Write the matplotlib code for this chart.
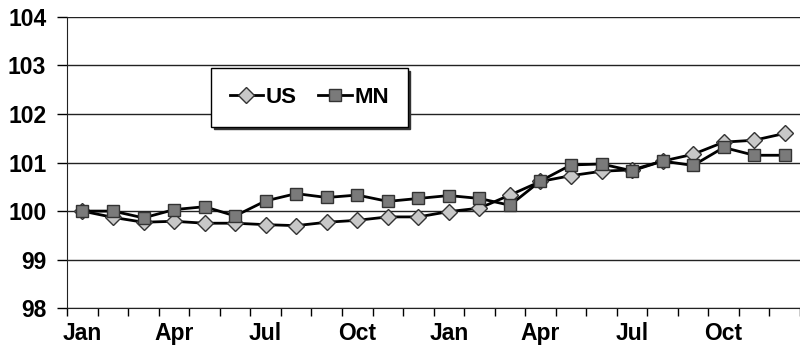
import matplotlib.pyplot as plt
import numpy as np

plt.rcParams['font.family'] = ['Liberation Sans', 'DejaVu Sans']
plt.rcParams['font.weight'] = 'bold'

months = ["Jan", "Feb", "Mar", "Apr", "May", "Jun",
          "Jul", "Aug", "Sep", "Oct", "Nov", "Dec"] * 2
us = [100.0, 99.87, 99.77, 99.79, 99.75, 99.75, 99.72, 99.70, 99.77, 99.81, 99.88, 99.88,
      99.99, 100.06, 100.33, 100.61, 100.73, 100.82, 100.85, 101.03, 101.17, 101.42, 101.46, 101.60]
mn = [100.0, 100.0, 99.86, 100.03, 100.09, 99.90, 100.21, 100.36, 100.28, 100.33, 100.20, 100.26,
      100.32, 100.26, 100.12, 100.62, 100.95, 100.97, 100.83, 101.03, 100.94, 101.31, 101.15, 101.15]

x = np.arange(len(months))

fig = plt.figure(figsize=(8, 3.6), dpi=100)
ax = fig.add_axes([0.084, 0.144, 0.916, 0.809])

ax.plot(x, us, color='black', lw=2, marker='D', ms=8, mfc='#c8c8c8', mec='#333333',
        mew=1, label='US', zorder=3)
ax.plot(x, mn, color='black', lw=2, marker='s', ms=8, mfc='#7a7a7a', mec='#333333',
        mew=1, label='MN', zorder=4)

ax.set_ylim(98, 104)
ax.set_yticks(np.arange(98, 105, 1))
ax.set_xlim(-0.5, 23.22)

# labels every quarter, tick marks between months
ax.set_xticks(x[::3])
ax.set_xticklabels(months[::3])
ax.set_xticks(np.arange(-0.5, 24, 1), minor=True)
ax.tick_params(axis='x', which='major', length=0, pad=10, labelsize=16.5)
ax.tick_params(axis='x', which='minor', length=6, width=1, direction='out')
ax.tick_params(axis='y', length=7, width=1, pad=8, labelsize=16.5)

ax.grid(axis='y', color='#222222', lw=1)
ax.set_axisbelow(True)
for s in ['top', 'right']:
    ax.spines[s].set_visible(False)
ax.spines['left'].set_color('#222222')
ax.spines['bottom'].set_color('#222222')

leg = ax.legend(loc='upper left', bbox_to_anchor=(0.196, 0.825), borderaxespad=0,
                ncol=2, frameon=True, fancybox=False,
                shadow={'color': '#333333', 'alpha': 1}, edgecolor='black', framealpha=1,
                handlelength=1.5, handletextpad=0.1, columnspacing=1.0,
                borderpad=0.85, fontsize=16)
leg.get_frame().set_linewidth(1)

fig.savefig('out.png', dpi=100)
